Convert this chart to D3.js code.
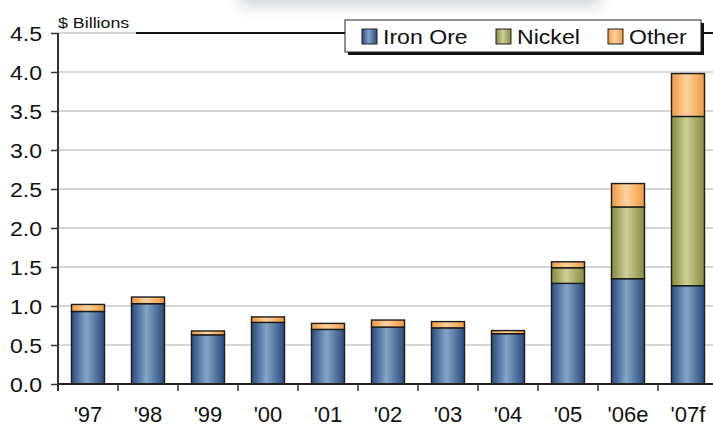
<!DOCTYPE html>
<html>
<head>
<meta charset="utf-8">
<script src="https://cdn.jsdelivr.net/npm/d3@7"></script>
<style>
  html, body { margin: 0; padding: 0; background: #fff; }
  svg { display: block; font-family: Arial, "Liberation Sans", Helvetica, sans-serif; }
</style>
</head>
<body>
<svg id="chart" width="713" height="427"></svg>
<script>
// ---- data ----
const categories = ["'97", "'98", "'99", "'00", "'01", "'02", "'03", "'04", "'05", "'06e", "'07f"];
const ironOre = [0.93, 1.03, 0.63, 0.79, 0.70, 0.73, 0.72, 0.645, 1.29, 1.35, 1.26];
const nickel  = [0, 0, 0, 0, 0, 0, 0, 0, 0.20, 0.92, 2.17];
const other   = [0.09, 0.085, 0.05, 0.07, 0.077, 0.09, 0.08, 0.04, 0.077, 0.30, 0.55];
const seriesNames = ["Iron Ore", "Nickel", "Other"];
const yTicks = [0, 0.5, 1.0, 1.5, 2.0, 2.5, 3.0, 3.5, 4.0, 4.5];
const unitLabel = "$ Billions";

const svg = d3.select("#chart");
const W = 713, H = 427;
const margin = { left: 58, top: 33, bottom: 43 };

const x = d3.scaleBand().domain(categories).range([margin.left, 718]).paddingInner(0.45).paddingOuter(0.225);
const y = d3.scaleLinear().domain([0, 4.5]).range([H - margin.bottom, margin.top]);

// gradients
const defs = svg.append("defs");
const grads = [
  { id: "g0", edge: "#2a4a7c", mid: "#84a5c6" },
  { id: "g1", edge: "#858a3e", mid: "#cdcf98" },
  { id: "g2", edge: "#ee9840", mid: "#fcd3a0" }
];
grads.forEach(g => {
  const lg = defs.append("linearGradient").attr("id", g.id).attr("x1", "0%").attr("x2", "100%").attr("y1", "0%").attr("y2", "0%");
  lg.append("stop").attr("offset", "0%").attr("stop-color", g.edge);
  lg.append("stop").attr("offset", "45%").attr("stop-color", g.mid);
  lg.append("stop").attr("offset", "100%").attr("stop-color", g.edge);
});
const blur = defs.append("filter").attr("id", "blur")
  .attr("filterUnits", "userSpaceOnUse").attr("x", 150).attr("y", -60).attr("width", 540).attr("height", 100);
blur.append("feGaussianBlur").attr("stdDeviation", 7);

// faint blurred remnant of the cropped title at the very top
svg.append("rect").attr("x", 240).attr("y", -20).attr("width", 360).attr("height", 26)
  .attr("fill", "#bfc4cc").attr("filter", "url(#blur)").attr("opacity", 0.75);

// gridlines
svg.append("g").selectAll("line").data(yTicks.filter(t => t > 0)).join("line")
  .attr("x1", margin.left).attr("x2", W)
  .attr("y1", d => y(d)).attr("y2", d => y(d))
  .attr("stroke", "#c9c9c9").attr("stroke-width", 1.5);

// top black frame line (after the unit label)
svg.append("line").attr("x1", 136).attr("x2", W).attr("y1", y(4.5)).attr("y2", y(4.5))
  .attr("stroke", "#111").attr("stroke-width", 2);

// stacked bars
const rows = categories.map((c, i) => ({ cat: c, "Iron Ore": ironOre[i], "Nickel": nickel[i], "Other": other[i] }));
const stack = d3.stack().keys(seriesNames)(rows);
svg.append("g").selectAll("g").data(stack).join("g")
  .attr("fill", (d, i) => `url(#g${i})`)
  .selectAll("rect").data(d => d.filter(s => s[1] - s[0] > 0)).join("rect")
  .attr("x", d => x(d.data.cat))
  .attr("width", x.bandwidth())
  .attr("y", d => y(d[1]))
  .attr("height", d => y(d[0]) - y(d[1]))
  .attr("stroke", "#1b1b1b").attr("stroke-width", 1.4);

// y axis
const yAxis = svg.append("g").attr("transform", `translate(${margin.left},0)`)
  .call(d3.axisLeft(y).tickValues(yTicks).tickFormat(d3.format(".1f")).tickSize(7).tickSizeOuter(0));
yAxis.select(".domain").attr("stroke", "#333").attr("stroke-width", 2)
  .attr("d", `M0,${y(4.5)}V${y(0) + 7}`);
yAxis.selectAll(".tick line").attr("stroke", "#333").attr("stroke-width", 1.5);
yAxis.selectAll(".tick text").attr("font-size", 21).attr("fill", "#111")
  .attr("x", 0).attr("transform", "translate(-16,0) scale(1.1,1)").attr("dy", "0.36em");

// x axis
const xAxis = svg.append("g").attr("transform", `translate(0,${y(0)})`)
  .call(d3.axisBottom(x).tickSize(0).tickSizeOuter(0));
xAxis.select(".domain").attr("stroke", "#222").attr("stroke-width", 2).attr("d", `M${margin.left},0H${W}`);
xAxis.selectAll(".tick text").attr("font-size", 22).attr("fill", "#111").attr("y", 38).attr("dy", 0);
const gap = x.step() * x.paddingInner() / 2;
xAxis.append("g").selectAll("line").data(categories).join("line")
  .attr("x1", d => x(d) - gap).attr("x2", d => x(d) - gap)
  .attr("y1", 0).attr("y2", 7).attr("stroke", "#333").attr("stroke-width", 1.5);

// unit label
svg.append("text").attr("x", 0).attr("y", 0)
  .attr("transform", "translate(58,27.5) scale(1.15,1)")
  .attr("font-size", 15.5).attr("fill", "#111").text(unitLabel);

// legend
const lg = svg.append("g");
lg.append("rect").attr("x", 348).attr("y", 23).attr("width", 356).attr("height", 32).attr("fill", "#111");
lg.append("rect").attr("x", 345).attr("y", 20).attr("width", 356).attr("height", 32)
  .attr("fill", "#fff").attr("stroke", "#222").attr("stroke-width", 1);
const legX = [362, 496, 608];
seriesNames.forEach((s, i) => {
  lg.append("rect").attr("x", legX[i]).attr("y", 29).attr("width", 15).attr("height", 15)
    .attr("fill", `url(#g${i})`).attr("stroke", "#222").attr("stroke-width", 1);
  lg.append("text").attr("x", 0).attr("y", 0)
    .attr("transform", `translate(${legX[i] + 21},44) scale(1.1,1)`)
    .attr("font-size", 21).attr("fill", "#111").text(s);
});
</script>
</body>
</html>
